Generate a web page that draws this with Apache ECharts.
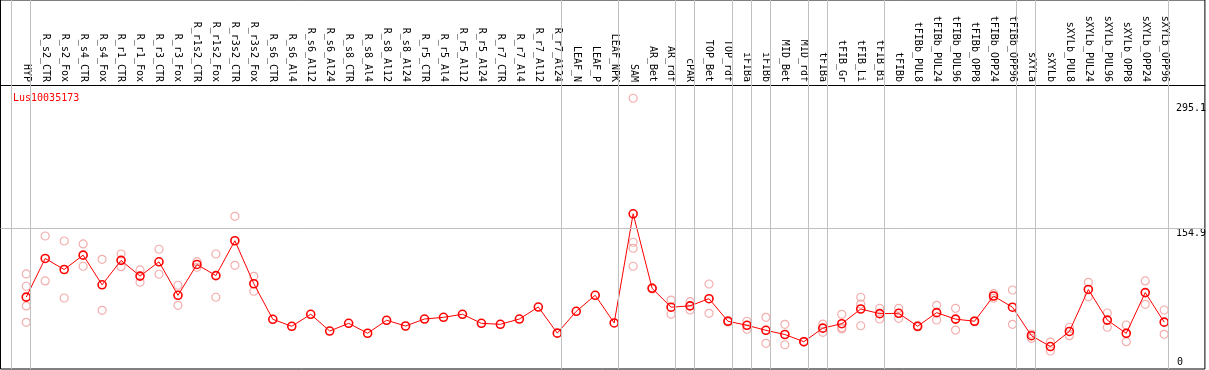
<!DOCTYPE html>
<html>
<head>
<meta charset="utf-8">
<script src="https://cdn.jsdelivr.net/npm/echarts@6/dist/echarts.min.js"></script>
<style>
html,body{margin:0;padding:0;background:#fff;}
#chart{width:1209px;height:370px;}
</style>
</head>
<body>
<div id="chart"></div>
<script>
const categories = ["HYP","R_s2_CTR","R_s2_Fox","R_s4_CTR","R_s4_Fox","R_r1_CTR","R_r1_Fox","R_r3_CTR","R_r3_Fox","R_r1s2_CTR","R_r1s2_Fox","R_r3s2_CTR","R_r3s2_Fox","R_s6_CTR","R_s6_Al4","R_s6_Al12","R_s6_Al24","R_s8_CTR","R_s8_Al4","R_s8_Al12","R_s8_Al24","R_r5_CTR","R_r5_Al4","R_r5_Al12","R_r5_Al24","R_r7_CTR","R_r7_Al4","R_r7_Al12","R_r7_Al24","LEAF_N","LEAF_P","LEAF_NPK","SAM","AR_Bet","AR_rdf","cPAR","TOP_Bet","TOP_rdf","iFIBa","iFIBb","MID_Bet","MID_rdf","tFIBa","tFIB_Gr","tFIB_Li","tFIB_Bi","tFIBb","tFIBb_PUL8","tFIBb_PUL24","tFIBb_PUL96","tFIBb_OPP8","tFIBb_OPP24","tFIBb_OPP96","sXYLa","sXYLb","sXYLb_PUL8","sXYLb_PUL24","sXYLb_PUL96","sXYLb_OPP8","sXYLb_OPP24","sXYLb_OPP96"];

const means = [78.3,121.4,109.1,125.1,92.0,119.3,101.7,117.7,80.3,114.7,102.3,141.2,93.2,53.5,45.7,59.1,40.4,49.0,37.9,52.4,46.0,53.8,55.7,59.1,49.0,47.9,53.8,67.2,38.0,62.4,80.3,49.4,171.3,88.1,67.0,68.5,76.5,51.3,46.8,41.2,36.5,28.5,43.6,48.6,65.0,59.8,60.2,45.7,60.9,53.7,51.3,79.5,67.0,35.2,23.1,39.9,86.8,52.6,37.8,83.3,50.3];

const replicates = [
  [104.1,90.4,68.4,50.1],[146.5,96.3],[140.9,77.3],[137.6,112.7],[120.5,63.5],[126.4,112.2],[108.6,94.8],[131.7,103.8],[91.5,69.1],[117.8,111.6],[126.4,78.1],[168.5,113.8],[101.5,84.8],
  [],[],[],[],[],[],[],[],[],[],[],[],[],[],[],[],[],[],[],
  [300.3,139.5,132.8,112.7],[88.8,87.4],[75.0,59.1],[73.2,63.9],[92.9,60.2],[52.0,50.5],[51.3,42.3],[55.7,26.7],[47.9,25.1],[29.0,28.0],[48.2,39.0],[59.1,42.7,44.2],[78.1,70.6,46.3],[65.8,53.8],
  [65.8,54.6],[46.5,45.0],[69.1,52.7],[65.8,41.5],[51.8,50.8],[82.1,77.0],[86.2,47.9],[37.1,32.3],[28.1,18.1],[44.6,35.2],[94.8,78.7],[60.5,44.6],[47.1,28.5],[96.3,70.2],[63.9,36.7]
];

const groupEnds = [-1,0,28,31,34,35,37,38,39,41,42,45,52,53,60];
const yTickLabels = [154.9, 295.1];
const yZeroLabel = [0];
const gridLineValue = 154.9;
const title = "Lus10035173";

const meanData = means.map((v,i)=>[i,v]);
const repData = [];
replicates.forEach((arr,i)=>arr.forEach(v=>repData.push([i,v])));
const sepOffset = 0.22;

const font = "DejaVu Sans Mono";
const chart = echarts.init(document.getElementById('chart'), null, {renderer:'canvas'});
chart.setOption({
  animation:false,
  backgroundColor:'#fff',
  title:{text:title,left:8,top:88,textStyle:{color:'#ff0000',fontSize:10,fontFamily:font,fontWeight:'normal'}},
  grid:{left:0.5,right:1.5,top:0,bottom:1,show:true,borderColor:'#000',borderWidth:1,backgroundColor:'#fff'},
  xAxis:{type:'value',position:'top',offset:-85,min:-1.357,max:62.146,
    axisLine:{show:true,onZero:false,lineStyle:{color:'#000',width:1}},
    axisTick:{show:false},splitLine:{show:false},
    axisLabel:{customValues:categories.map((c,i)=>i),formatter:v=>categories[Math.round(v)]||'',
      rotate:90,margin:3,fontSize:10,fontFamily:font,color:'#000',hideOverlap:false}},
  yAxis:[
    {type:'value',position:'right',min:-2,max:410,axisLine:{show:false},axisTick:{show:false},splitLine:{show:false},
     axisLabel:{customValues:yTickLabels,inside:true,align:'left',verticalAlign:'top',margin:29,fontSize:10,fontFamily:font,color:'#000',formatter:v=>String(v)}},
    {type:'value',position:'right',min:-2,max:410,axisLine:{show:false},axisTick:{show:false},splitLine:{show:false},
     axisLabel:{customValues:yZeroLabel,inside:true,align:'left',verticalAlign:'bottom',margin:28,fontSize:10,fontFamily:font,color:'#000',formatter:v=>String(v)}}
  ],
  series:[
    {type:'line',data:[],silent:true,
     markLine:{silent:true,symbol:'none',label:{show:false},animation:false,
       lineStyle:{color:'#c0c0c0',type:'solid',width:1},
       data:groupEnds.map(g=>({xAxis:g+sepOffset})).concat([{yAxis:gridLineValue}])}},
    {type:'scatter',data:repData,symbol:'circle',symbolSize:8,z:3,
     itemStyle:{color:'rgba(0,0,0,0)',borderColor:'#f09a9a',borderWidth:1.2}},
    {type:'line',data:meanData,symbol:'circle',symbolSize:8,z:4,
     lineStyle:{color:'#ff0000',width:1},
     itemStyle:{color:'rgba(0,0,0,0)',borderColor:'#ff0000',borderWidth:1.6}}
  ]
});
</script>
</body>
</html>
